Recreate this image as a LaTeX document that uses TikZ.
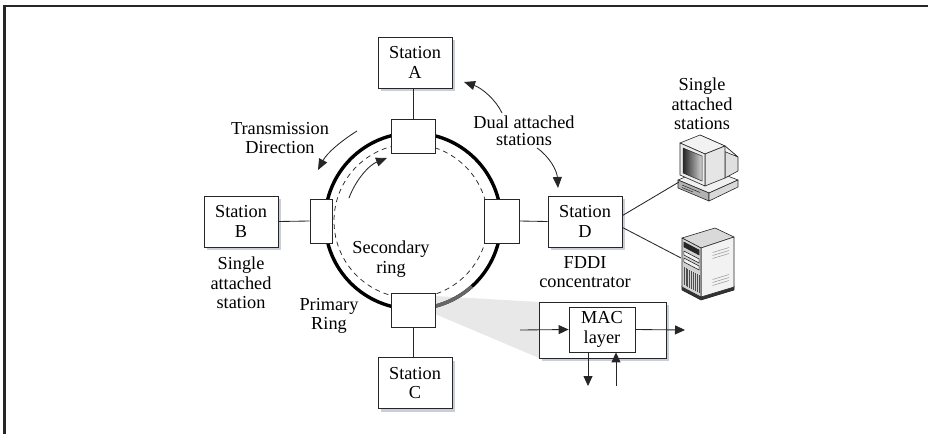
\documentclass[tikz,border=0pt]{standalone}
\usepackage{fontspec}
\setmainfont{Liberation Serif}
\usetikzlibrary{arrows.meta,shadows,calc}
\definecolor{shadowc}{RGB}{202,206,216}
\definecolor{wedgec}{RGB}{232,232,232}
\begin{document}
\begin{tikzpicture}[x=1pt,y=-1pt,
  every node/.style={font=\fontsize{18.3}{19.5}\selectfont, text=black},
  boxshadow/.style={drop shadow={shadow xshift=3pt,shadow yshift=-3pt,fill=shadowc,opacity=1}},
  stationbox/.style={draw=black!85, line width=0.8pt, fill=white, minimum width=74pt,
    minimum height=51pt, inner sep=0pt, align=center, boxshadow},
  port/.style={draw=black!85, line width=0.8pt, fill=white, inner sep=0pt},
  lbl/.style={align=center, inner sep=0pt},
  link/.style={draw=black!85, line width=0.85pt},
  tip/.style={-{Triangle[length=11pt,width=9pt]}},
  smalltip/.style={-{Triangle[length=10pt,width=9pt]}},
  dev/.style={draw=black!85, line width=0.6pt, line join=round},
]
\useasboundingbox (0,0) rectangle (928,434);

% page frame (top and left rules)
\draw[black!85, line width=2.4pt] (4.5,434) -- (4.5,6) -- (928,6);

% magnified region behind the MAC detail
\fill[wedgec] (435,296) -- (539,302) -- (539,358) -- (435,314) -- cycle;

% rings
\coordinate (rc) at (413,221);
\draw[black, line width=3.4pt] (rc) circle[radius=88];
\draw[black!60, line width=3.4pt] plot[smooth, domain=48:78, samples=16]
  ({413+88*cos(\x)},{221+88*sin(\x)});
\draw[black!85, line width=0.75pt, dash pattern=on 5pt off 4pt] (411,221) circle[radius=77];

% ports on the ring
\node[port, minimum width=44pt, minimum height=34pt] (pa) at (413,136) {};
\node[port, minimum width=44pt, minimum height=34pt] (pc) at (413,310) {};
\node[port, minimum width=22pt, minimum height=44pt] (pb) at (321,221) {};
\node[port, minimum width=35pt, minimum height=44pt] (pd) at (501.5,221) {};

% stations
\node[stationbox] (A) at (415,62.5) {Station\\A};
\node[stationbox] (B) at (241,221.5) {Station\\B};
\node[stationbox] (C) at (415,383) {Station\\C};
\node[stationbox] (D) at (585,221.5) {Station\\D};

\draw[link] (A.south -| pa.north) -- (pa.north);
\draw[link] (pc.south) -- (pc.south |- C.north);
\draw[link] (B.east) -- (pb.west);
\draw[link] (pd.east) -- (D.west);

% MAC detail
\node[draw=black!85, line width=0.8pt, fill=white, minimum width=127pt, minimum height=56pt,
  inner sep=0pt, boxshadow] (macbox) at (602.5,330) {};
\node[draw=black!85, line width=0.8pt, fill=white, minimum width=66pt, minimum height=45pt,
  inner sep=0pt, align=center] (mac) at (602,329.5) {MAC\\layer};
\coordinate (macin) at (520,330);
\coordinate (macout) at (685,330);
\coordinate (macdn) at (588,386);
\coordinate (macup) at (616,386);
\draw[link, smalltip] (macin) -- (mac.west);
\draw[link, smalltip] (mac.east) -- (macout);
\draw[link, smalltip] ($(mac.south)+(-14,0)$) -- (macdn);
\draw[link, smalltip] (macup) -- ($(mac.south)+(14,0)$);

% labels
\node[lbl] (trans) at (280,138) {Transmission\\Direction};
\node[lbl, font=\fontsize{18.3}{17}\selectfont] (dual) at (524,131) {Dual attached\\stations};
\node[lbl] (sasr) at (702,104) {Single\\attached\\stations};
\node[lbl] (sasb) at (241,283) {Single\\attached\\station};
\node[lbl] (sec) at (391,259) {Secondary\\ring};
\node[lbl] (prim) at (329,316) {Primary\\Ring};
\node[lbl] (fddi) at (585,272) {FDDI\\concentrator};

% direction arrows
\coordinate (tr1) at (357,131);
\coordinate (tr2) at (318,170);
\draw[link, tip] (tr1) .. controls (341,141) and (327,153) .. (tr2);
\coordinate (in1) at (349,198);
\coordinate (in2) at (387,158);
\draw[link, tip] (in1) .. controls (355.6,180) and (369,165) .. (in2);
\coordinate (du1) at (502,113);
\coordinate (du2) at (464,82);
\draw[link, tip] (du1) .. controls (496,100) and (482,88) .. (du2);
\coordinate (dd1) at (537,148);
\coordinate (dd2) at (558,188);
\draw[link, tip] (dd1) .. controls (550,157) and (557,171) .. (dd2);

% desktop workstation
\coordinate (mon) at (679,182);
\filldraw[dev, fill=gray!12] (678,180) -- (707,168) -- (738,180) -- (709,193) -- cycle;
\filldraw[dev, fill=gray!60] (678,180) -- (709,193) -- (709,201) -- (678,188) -- cycle;
\filldraw[dev, fill=gray!30] (709,193) -- (738,180) -- (738,187) -- (709,201) -- cycle;
\draw[black!85, line width=0.5pt] (682,185) -- (700,192.5);
\draw[black!85, line width=0.5pt] (682,187.5) -- (693,192);
% monitor
\filldraw[dev, fill=gray!25] (725,146) -- (738,157) -- (738,171) -- (725,178) -- cycle;
\filldraw[dev, fill=gray!8] (700,135) -- (725,146) -- (738,157) -- (716,148) -- cycle;
\filldraw[dev, fill=gray!10] (680,143) -- (705,154) -- (725,146) -- (700,135) -- cycle;
\filldraw[dev, fill=gray!20] (705,154) -- (705,186) -- (725,178) -- (725,146) -- cycle;
\filldraw[dev, fill=gray!15] (680,143) -- (705,154) -- (705,186) -- (680,175) -- cycle;
\shade[left color=black!85, right color=gray!35, draw=black!85, line width=0.5pt]
  (683,148) -- (702,156) -- (702,181) -- (683,173) -- cycle;

% tower server
\coordinate (srv) at (681,258);
\filldraw[dev, fill=black!80] (682,286) -- (701,296) -- (734,286) -- (734,290) -- (701,300) -- (682,290) -- cycle;
\filldraw[dev, fill=gray!30] (682,238) -- (701,248) -- (734,237) -- (715,228) -- cycle;
\filldraw[dev, fill=gray!10] (701,248) -- (734,237) -- (734,287) -- (701,297) -- cycle;
\filldraw[dev, fill=gray!35] (682,238) -- (701,248) -- (701,297) -- (682,287) -- cycle;
\filldraw[black!85] (683.9,242) -- (699.1,250) -- (699.1,255) -- (683.9,247) -- cycle;
\filldraw[dev, fill=gray!10] (683.9,251) -- (699.1,259) -- (699.1,263) -- (683.9,255) -- cycle;
\filldraw[dev, fill=gray!10] (683.9,258) -- (699.1,266) -- (699.1,270) -- (683.9,262) -- cycle;
\foreach \u in {0.1,0.2,...,0.91}
  \draw[black!70, line width=0.45pt] ({682+19*\u},{238+10*\u+28}) -- ({682+19*\u},{238+10*\u+46});
\foreach \v in {0.16,0.22,0.28,0.70,0.76,0.82}
  \draw[black!45, line width=0.45pt] ({701+33*0.35},{248-10*0.35+50*\v}) -- ({701+33*0.85},{248-10*0.85+50*\v});

\draw[link] (D.9) -- (mon);
\draw[link] (D.-9) -- (srv);
\end{tikzpicture}
\end{document}
